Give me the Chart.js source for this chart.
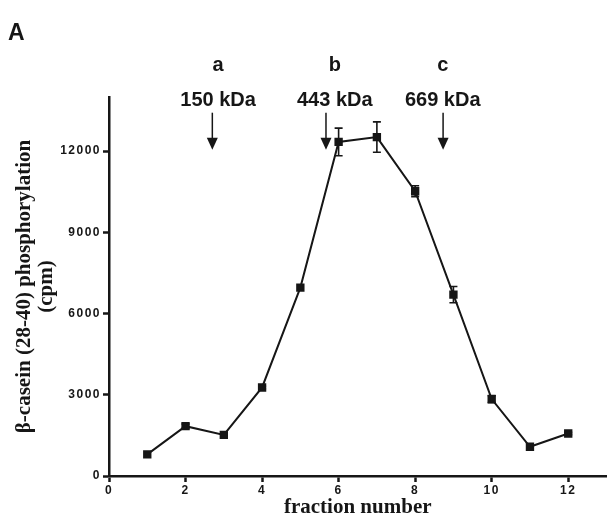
<!DOCTYPE html>
<html>
<head>
<meta charset="utf-8">
<script src="https://cdn.jsdelivr.net/npm/chart.js@4.4.1/dist/chart.umd.min.js"></script>
<style>
    html, body { margin: 0; padding: 0; background: #fff; }
    #wrap { width: 613px; height: 521px; position: relative; }
</style>
</head>
<body>
<div id="wrap"><canvas id="myChart" width="613" height="521"></canvas></div>
<script>
// fraction number vs. beta-casein (28-40) phosphorylation (cpm)
var fractions = [1, 2, 3, 4, 5, 6, 7, 8, 9, 10, 11, 12];
var cpm = [800, 1840, 1520, 3270, 6960, 12340, 12520, 10520, 6700, 2840, 1080, 1570];
var cpmError = [0, 80, 0, 50, 0, 510, 560, 200, 300, 130, 0, 40];

var xTicks = [0, 2, 4, 6, 8, 10, 12];
var yTicks = [0, 3000, 6000, 9000, 12000];

// size standards (arrows)
var markerLetters = ['a', 'b', 'c'];
var markerLabels = ['150 kDa', '443 kDa', '669 kDa'];
var markerFraction = [2.7, 5.67, 8.73];
var markerLabelFraction = [2.85, 5.9, 8.72];

var points = fractions.map(function (f, i) {
    return { x: f, y: cpm[i] };
});

var ink = '#161616';

var extrasPlugin = {
    id: 'extras',
    afterDatasetsDraw: function (chart) {
        var ctx = chart.ctx;
        var xs = chart.scales.x;
        var ys = chart.scales.y;

        // error bars
        ctx.save();
        ctx.strokeStyle = ink;
        ctx.lineWidth = 1.6;
        for (var i = 0; i < fractions.length; i++) {
            if (!cpmError[i]) continue;
            var px = xs.getPixelForValue(fractions[i]);
            var top = ys.getPixelForValue(cpm[i] + cpmError[i]);
            var bot = ys.getPixelForValue(cpm[i] - cpmError[i]);
            ctx.beginPath();
            ctx.moveTo(px, top); ctx.lineTo(px, bot);
            ctx.moveTo(px - 4, top); ctx.lineTo(px + 4, top);
            ctx.moveTo(px - 4, bot); ctx.lineTo(px + 4, bot);
            ctx.stroke();
        }
        ctx.restore();

        // tick labels (z > 0) are drawn after this, spaced out like the original
        ctx.letterSpacing = '1.5px';
    },
    afterDraw: function (chart) {
        var ctx = chart.ctx;
        var xs = chart.scales.x;
        var ys = chart.scales.y;
        ctx.letterSpacing = '0px';

        ctx.save();
        ctx.fillStyle = ink;
        ctx.strokeStyle = ink;
        ctx.textAlign = 'center';
        ctx.textBaseline = 'middle';
        ctx.font = 'bold 20px "Liberation Sans", Arial, sans-serif';
        for (var i = 0; i < markerLetters.length; i++) {
            var lx = xs.getPixelForValue(markerLabelFraction[i]);
            ctx.fillText(markerLetters[i], lx, ys.getPixelForValue(15150));
            ctx.fillText(markerLabels[i], lx, ys.getPixelForValue(13880));

            var ax = xs.getPixelForValue(markerFraction[i]);
            var y1 = ys.getPixelForValue(13420);
            var y2 = ys.getPixelForValue(12050);
            ctx.lineWidth = 1.5;
            ctx.beginPath();
            ctx.moveTo(ax, y1);
            ctx.lineTo(ax, y2 - 10);
            ctx.stroke();
            ctx.beginPath();
            ctx.moveTo(ax - 5.5, y2 - 12);
            ctx.lineTo(ax + 5.5, y2 - 12);
            ctx.lineTo(ax, y2);
            ctx.closePath();
            ctx.fill();
        }

        // panel letter
        ctx.textAlign = 'left';
        ctx.font = 'bold 23px "Liberation Sans", Arial, sans-serif';
        ctx.fillText('A', 8, 34);
        ctx.restore();
    }
};

var tickFont = { family: '"Liberation Sans", Arial, sans-serif', size: 12, weight: 'bold' };

var ctx = document.getElementById('myChart').getContext('2d');
var chart = new Chart(ctx, {
    type: 'line',
    data: {
        datasets: [{
            label: 'phosphorylation',
            data: points,
            borderColor: ink,
            backgroundColor: ink,
            borderWidth: 2,
            pointStyle: 'rect',
            pointRadius: 4.5,
            pointHoverRadius: 4.5,
            tension: 0
        }]
    },
    plugins: [extrasPlugin],
    options: {
        responsive: false,
        animation: false,
        layout: { padding: { top: 97, left: 0, right: 0, bottom: 0 } },
        plugins: {
            legend: { display: false },
            tooltip: { enabled: false }
        },
        scales: {
            x: {
                type: 'linear',
                min: 0,
                max: 13,
                afterBuildTicks: function (axis) {
                    axis.ticks = xTicks.map(function (v) { return { value: v }; });
                },
                afterFit: function (axis) { axis.height = 45; },
                grid: { drawOnChartArea: false, drawTicks: true, tickLength: 6, tickWidth: 2.5, tickColor: ink },
                border: { color: ink, width: 2.5 },
                ticks: {
                    z: 1,
                    padding: 1,
                    color: ink,
                    maxRotation: 0,
                    font: tickFont,
                    callback: function (v) { return String(v); }
                },
                title: {
                    display: true,
                    text: 'fraction number',
                    color: ink,
                    padding: { top: 0, bottom: 1 },
                    font: { family: '"Liberation Serif", "Times New Roman", serif', size: 21, weight: 'bold' }
                }
            },
            y: {
                min: 0,
                max: 14000,
                afterBuildTicks: function (axis) {
                    axis.ticks = yTicks.map(function (v) { return { value: v }; });
                },
                afterFit: function (axis) { axis.width = 109; },
                grid: { drawOnChartArea: false, drawTicks: true, tickLength: 6, tickWidth: 2.5, tickColor: ink },
                border: { color: ink, width: 2.5 },
                ticks: {
                    z: 1,
                    padding: 2,
                    color: ink,
                    font: tickFont,
                    callback: function (v) { return String(v); }
                },
                title: {
                    display: true,
                    text: ['\u03B2-casein (28-40) phosphorylation', '(cpm)'],
                    color: ink,
                    padding: { top: 14, bottom: 0 },
                    font: { family: '"Liberation Serif", "Times New Roman", serif', size: 21, weight: 'bold', lineHeight: 1.05 }
                }
            }
        }
    }
});
</script>
</body>
</html>
